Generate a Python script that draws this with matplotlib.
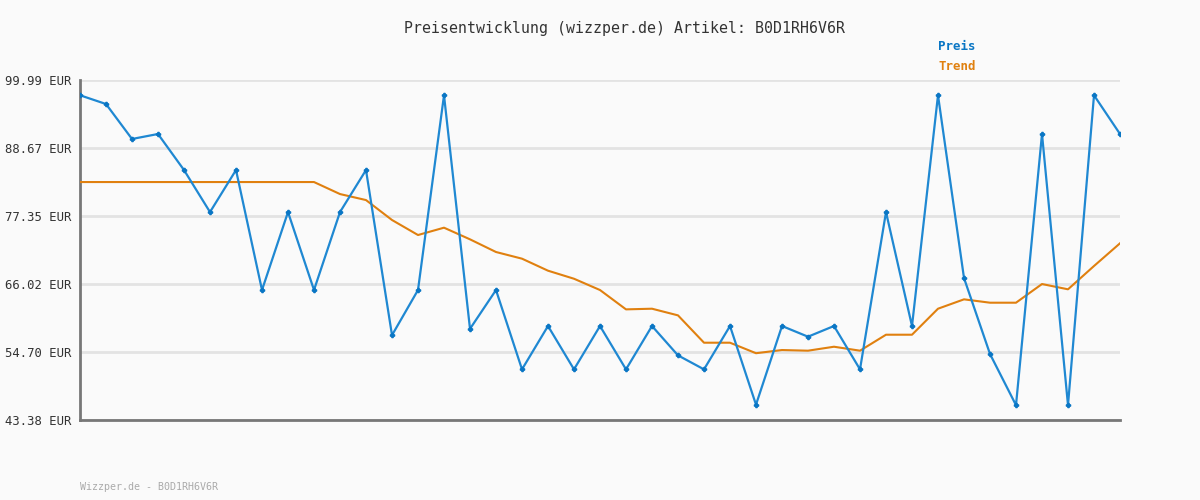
import matplotlib
matplotlib.use('Agg')
import matplotlib.pyplot as plt

# Preisverlauf
preis = [97.45, 95.99, 90.17, 91.0, 85.0, 78.0, 85.0, 65.02, 78.0, 65.02,
         78.0, 85.0, 57.5, 65.02, 97.45, 58.56, 65.02, 51.81, 59.03, 51.81,
         59.03, 51.81, 59.03, 54.14, 51.81, 59.03, 45.93, 59.03, 57.25, 59.03,
         51.81, 78.0, 59.03, 97.45, 67.02, 54.37, 45.85, 91.0, 45.85, 97.45, 91.0]
trend = [83.0, 83.0, 83.0, 83.0, 83.0, 83.0, 83.0, 83.0, 83.0, 83.0,
         81.0, 80.0, 76.68, 74.18, 75.4, 73.46, 71.35, 70.24, 68.24, 66.9,
         65.02, 61.8, 61.91, 60.8, 56.25, 56.25, 54.5, 55.03, 54.92, 55.58,
         54.92, 57.58, 57.58, 61.91, 63.47, 62.91, 62.91, 66.02, 65.14, 69.02, 72.8]
y_ticks = [43.38, 54.70, 66.02, 77.35, 88.67, 99.99]
artikel = 'B0D1RH6V6R'

BG = '#fafafa'
BLUE = '#1f88d2'
ORANGE = '#e0800f'
MONO = 'DejaVu Sans Mono'

fig = plt.figure(figsize=(12, 5), dpi=100, facecolor=BG)
ax = fig.add_axes([80 / 1200, 80 / 500, 1040 / 1200, 340 / 500], facecolor=BG)

x = list(range(len(preis)))
ax.plot(x, trend, color=ORANGE, lw=1.5, zorder=3)
ax.plot(x, preis, color=BLUE, lw=1.6, marker='P', ms=3, mfc='#0a76c4', mec='#0a76c4', zorder=4)

ax.set_xlim(0, len(preis) - 1)
ax.set_ylim(y_ticks[0], y_ticks[-1])
ax.set_yticks(y_ticks)
ax.set_yticklabels([f'{v:.2f} EUR' for v in y_ticks], family=MONO, fontsize=8.8, color='#333333')
ax.set_xticks([])
ax.tick_params(axis='y', length=0, pad=6)
ax.grid(axis='y', color='#e3e3e3', lw=2, zorder=0)
for s in ['top', 'right']:
    ax.spines[s].set_visible(False)
for s in ['left', 'bottom']:
    ax.spines[s].set_color('#777777')
    ax.spines[s].set_linewidth(2)

fig.text(624 / 1200, 1 - 28 / 500, f'Preisentwicklung (wizzper.de) Artikel: {artikel}',
         ha='center', va='center', family=MONO, fontsize=10.7, color='#333333')
fig.text(957 / 1200, 1 - 47 / 500, 'Preis', ha='center', va='center',
         family=MONO, fontsize=9, fontweight='bold', color='#0a76c4')
fig.text(957 / 1200, 1 - 67 / 500, 'Trend', ha='center', va='center',
         family=MONO, fontsize=9, fontweight='bold', color=ORANGE)
fig.text(80 / 1200, 1 - 487 / 500, f'Wizzper.de - {artikel}', ha='left', va='center',
         family=MONO, fontsize=7.2, color='#aaaaaa')

fig.savefig('out.png', dpi=100, facecolor=BG)
